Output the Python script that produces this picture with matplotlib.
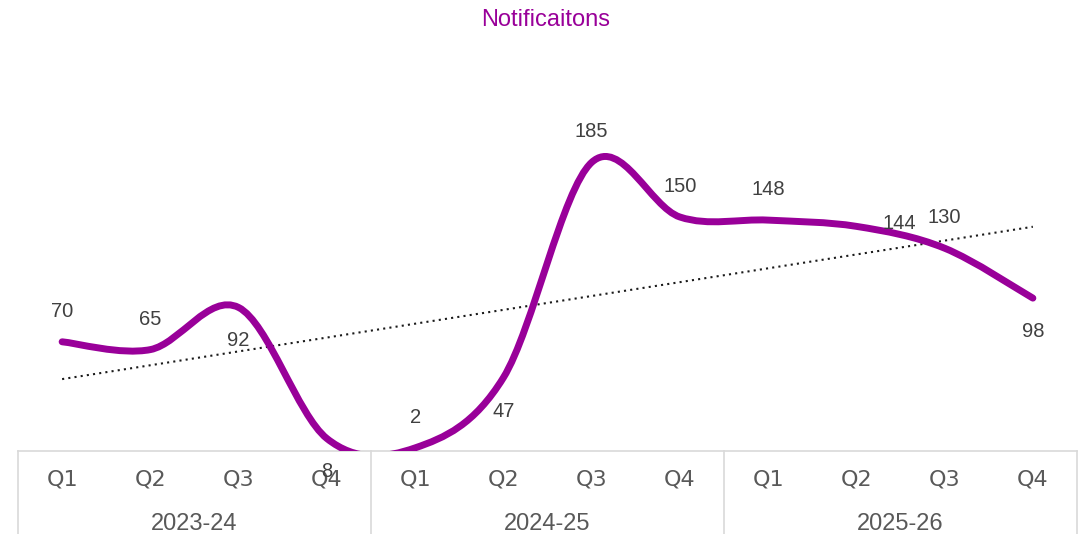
import numpy as np
import matplotlib
matplotlib.use('Agg')
import matplotlib.pyplot as plt
from matplotlib.path import Path
from matplotlib.patches import PathPatch
from matplotlib.transforms import blended_transform_factory

TITLE = 'Notificaitons'
YEARS = ['2023-24', '2024-25', '2025-26']
QUARTERS = ['Q1', 'Q2', 'Q3', 'Q4']
VALUES = [70, 65, 92, 8, 2, 47, 185, 150, 148, 144, 130, 98]
# where excel put each data label
LABELPOS = ['above', 'above', 'below', 'below', 'above', 'below',
            'above', 'above', 'above', 'right', 'above', 'below']

PURPLE = '#990099'
GRID = '#D9D9D9'


def SmoothPath(x, y):
    # excel-like smoothing: bezier with catmull-rom control points
    n = len(x)
    verts = [(x[0], y[0])]
    codes = [Path.MOVETO]
    for i in range(n - 1):
        p0 = i - 1 if i > 0 else 0
        p3 = i + 2 if i + 2 < n else n - 1
        c1 = (x[i] + (x[i + 1] - x[p0]) / 6, y[i] + (y[i + 1] - y[p0]) / 6)
        c2 = (x[i + 1] - (x[p3] - x[i]) / 6, y[i + 1] - (y[p3] - y[i]) / 6)
        verts += [c1, c2, (x[i + 1], y[i + 1])]
        codes += [Path.CURVE4] * 3
    return Path(verts, codes)


fig = plt.figure(figsize=(10.79, 5.34), dpi=100)
ax = fig.add_axes([18 / 1079, 83 / 534, 1059 / 1079, 390 / 534])
plt.rcParams['font.family'] = ['Liberation Sans', 'DejaVu Sans']

xs = np.arange(len(VALUES))
ax.add_patch(PathPatch(SmoothPath(xs, VALUES), facecolor='none',
                       edgecolor=PURPLE, linewidth=5.0, capstyle='round',
                       joinstyle='round', zorder=3))

k, b = np.polyfit(xs, VALUES, 1)
ax.plot(xs, k * xs + b, color='#1a1a1a', linestyle=(0, (1, 2)),
        linewidth=1.5, zorder=2)

for x, v, pos in zip(xs, VALUES, LABELPOS):
    if pos == 'above':
        off, ha = (0, 22), 'center'
    elif pos == 'below':
        off, ha = (0, -24), 'center'
    else:
        off, ha = (19, 2), 'left'
    ax.annotate(str(v), (x, v), xytext=off, textcoords='offset points',
                ha=ha, va='center', fontsize=14.5, color='#404040', zorder=4)

ax.set_xlim(-0.5, len(VALUES) - 0.5)
ax.set_ylim(0, 250)
ax.set_yticks([])
ax.set_xticks(xs)
ax.set_xticklabels(QUARTERS * len(YEARS), fontsize=16, color='#595959')
ax.tick_params(axis='x', length=0, pad=13)
for s in ['top', 'left', 'right']:
    ax.spines[s].set_visible(False)
ax.spines['bottom'].set_color(GRID)
ax.spines['bottom'].set_linewidth(1.2)

tr = blended_transform_factory(ax.transData, ax.transAxes)
for i, yr in enumerate(YEARS):
    ax.text(i * 4 + 1.5, -0.186, yr, transform=tr, ha='center', va='center',
            fontsize=17, color='#595959')
for i in range(len(YEARS) + 1):
    ax.plot([i * 4 - 0.5, i * 4 - 0.5], [0, -0.215], transform=tr,
            color=GRID, linewidth=1.2, clip_on=False)

fig.text(0.506, 0.963, TITLE, ha='center', va='center', fontsize=17,
         color=PURPLE)

fig.savefig('out.png', dpi=100)
